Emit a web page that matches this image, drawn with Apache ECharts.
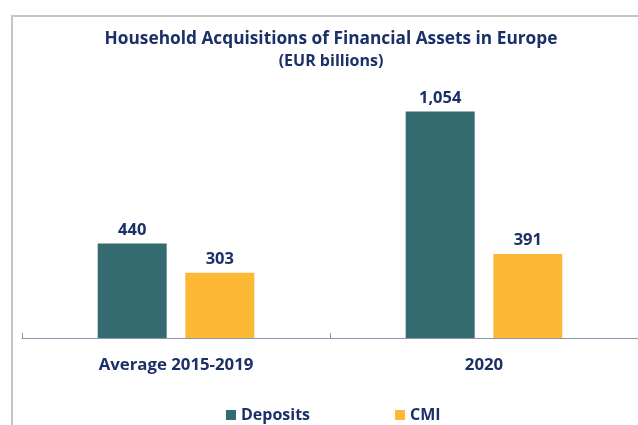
<!DOCTYPE html>
<html>
<head>
<meta charset="utf-8">
<script src="https://cdn.jsdelivr.net/npm/echarts@6/dist/echarts.min.js"></script>
<style>
    html, body{ margin: 0; padding: 0; background: #fff; }
    .frame{
        position: absolute;
        left: 11px; top: 15px;
        width: 640px; height: 420px;
        border-left: 2px solid #c4c4c4;
        border-top: 2px solid #c4c4c4;
    }
    #main{ position: absolute; left: 0; top: 0; width: 638px; height: 425px; }
</style>
</head>
<body>
<div class="frame"></div>
<div id="main"></div>
<script>
    var categories = ['Average 2015-2019', '2020'];
    var deposits = [440, 1054];
    var cmi = [303, 391];

    var navy = '#1b2f68';
    var font = 'Open Sans';
    var labelStyle = {
        show: true,
        position: 'top',
        distance: 5,
        color: navy,
        fontFamily: font,
        fontWeight: 'bold',
        fontSize: 16.5,
        formatter: function (p) { return p.value.toLocaleString('en-US'); }
    };

    var myChart = echarts.init(document.getElementById('main'));
    var option = {
        animation: false,
        title: {
            text: 'Household Acquisitions of Financial Assets in Europe',
            subtext: '(EUR billions)',
            left: 326,
            textAlign: 'center',
            top: 26,
            itemGap: 5,
            textStyle: { color: navy, fontFamily: font, fontWeight: 'bold', fontSize: 17.3 },
            subtextStyle: { color: navy, fontFamily: font, fontWeight: 'bold', fontSize: 16 }
        },
        legend: {
            bottom: -3,
            left: 221,
            itemWidth: 10,
            itemHeight: 10,
            itemGap: 85,
            icon: 'rect',
            textStyle: { color: navy, fontFamily: font, fontWeight: 'bold', fontSize: 16 }
        },
        grid: { left: 22, right: -4, top: 80, bottom: 87 },
        xAxis: {
            type: 'category',
            data: categories,
            axisLine: { lineStyle: { color: '#8d96ad', width: 1 } },
            axisTick: { show: true, length: 5, inside: true, lineStyle: { color: '#8d96ad' } },
            axisLabel: { color: navy, fontFamily: font, fontWeight: 'bold', fontSize: 16.8, margin: 19 }
        },
        yAxis: {
            type: 'value',
            min: 0,
            max: 1200,
            show: false,
            splitLine: { show: false }
        },
        series: [
            {
                name: 'Deposits',
                type: 'bar',
                data: deposits,
                barWidth: 69,
                barGap: '27%',
                itemStyle: { color: '#336b70' },
                label: labelStyle
            },
            {
                name: 'CMI',
                type: 'bar',
                data: cmi,
                barWidth: 69,
                itemStyle: { color: '#fdb935' },
                label: labelStyle
            }
        ]
    };
    myChart.setOption(option);
</script>
</body>
</html>
